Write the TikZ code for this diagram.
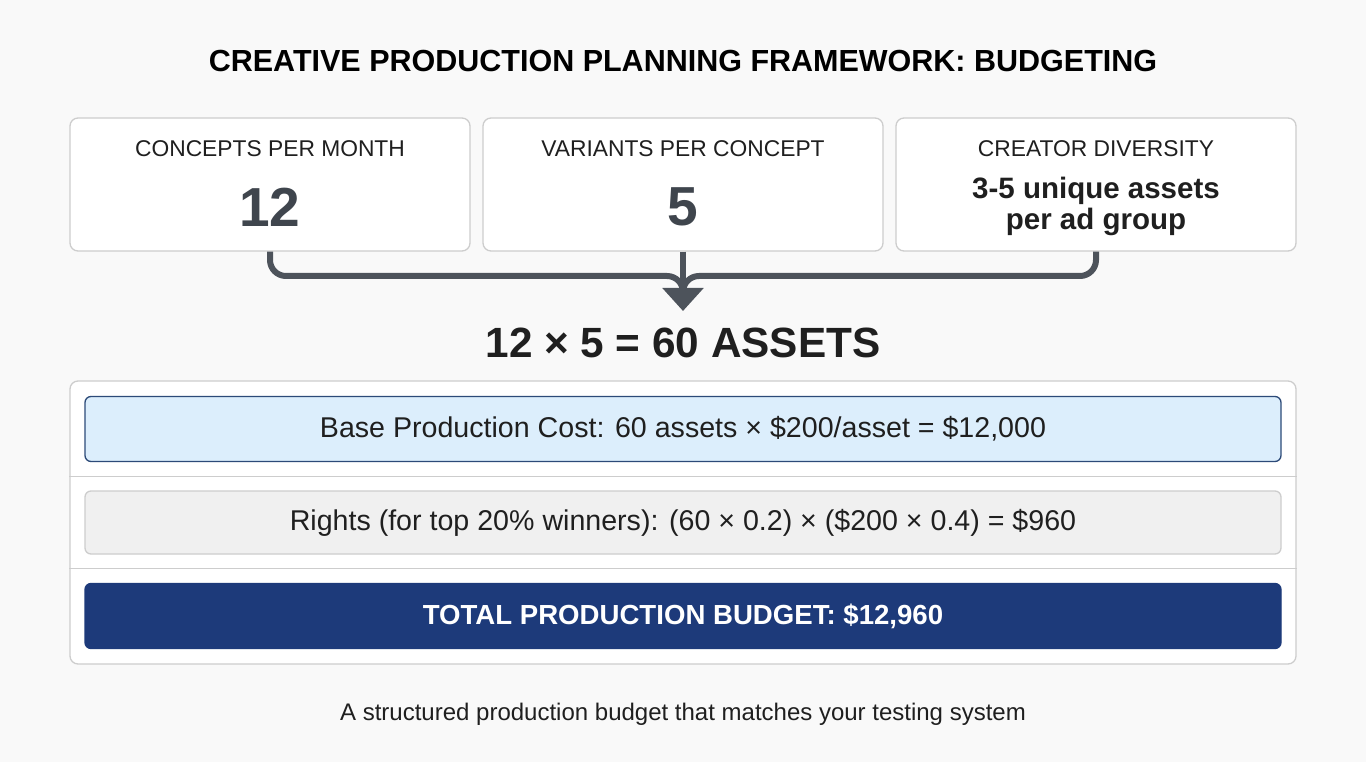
\documentclass[tikz,border=0pt]{standalone}
\usepackage{fontspec}
\setmainfont{Liberation Sans}
\usetikzlibrary{arrows.meta,calc}
\definecolor{bgcol}{HTML}{F9F9F9}
\definecolor{edgegray}{HTML}{CDCDCD}
\definecolor{slate}{HTML}{3F454D}
\definecolor{linkgray}{HTML}{4D535B}
\definecolor{inkdark}{HTML}{1F1F1F}
\definecolor{paleblue}{HTML}{DCEEFC}
\definecolor{navyedge}{HTML}{2C4A78}
\definecolor{palegray}{HTML}{F0F0F0}
\definecolor{navy}{HTML}{1D3A7A}
\newcommand{\fsz}[1]{\fontsize{#1}{#1}\selectfont}
\tikzset{
  card/.style={draw=edgegray, fill=white, rounded corners=8pt, line width=1.3pt,
    minimum width=400pt, minimum height=133pt},
  cardlabel/.style={text=inkdark, font=\fsz{22.8}},
  bignum/.style={text=slate, font=\fsz{55}\bfseries},
  smallnum/.style={text=inkdark, font=\fsz{29.5}\bfseries, align=center},
  link/.style={draw=linkgray, line width=6pt, rounded corners=16pt},
  rowbox/.style={rounded corners=6pt, line width=1.3pt, minimum width=1196pt,
    minimum height=65pt, font=\fsz{28.6}},
  sepline/.style={draw=edgegray, line width=1.3pt}
}
\begin{document}
\begin{tikzpicture}[x=1pt, y=-1pt]
    %%%%% START %%%%%
    \useasboundingbox[fill=bgcol] (0,0) rectangle (1366,762);

    \node[text=black, font=\fsz{30.5}\bfseries] (title) at (683,61)
      {CREATIVE PRODUCTION PLANNING FRAMEWORK: BUDGETING};

    % three input cards
    \node[card] (c1) at (270,184.5) {};
    \node[card] (c2) at (683,184.5) {};
    \node[card] (c3) at (1096,184.5) {};

    \node[cardlabel] (l1) at (270,149) {CONCEPTS PER MONTH};
    \node[cardlabel] (l2) at (683,149) {VARIANTS PER CONCEPT};
    \node[cardlabel] (l3) at (1096,149) {CREATOR DIVERSITY};

    \node[bignum] (n1) at (270,207) {12};
    \node[bignum] (n2) at (683,207) {5};
    \node[smallnum] (n3) at (1096,206.5) {3-5 unique assets\\[2pt]per ad group};

    % merging connector
    \coordinate (join) at (683,276);
    \coordinate (base) at (683,292);
    \coordinate (tip) at (683,311);
    \draw[link] (c1.south) |- (join) -- (base);
    \draw[link] (c3.south) |- (join) -- (base);
    \draw[link, rounded corners=0pt, -{Triangle[width=40pt 0 0, length=23pt 0 0]}]
      (c2.south) -- (tip);

    \node[text=inkdark, font=\fsz{42.3}\bfseries] (result) at (683,343)
      {12 × 5 = 60 ASSETS};

    % budget panel
    \node[card, minimum width=1226pt, minimum height=283pt] (panel) at (683,522.5) {};
    \draw[sepline] (panel.west |- 0,476.5) -- (panel.east |- 0,476.5);
    \draw[sepline] (panel.west |- 0,568.5) -- (panel.east |- 0,568.5);

    \node[rowbox, draw=navyedge, fill=paleblue, text=inkdark] (base cost) at (683,429)
      {Base Production Cost: 60 assets × \$200/asset = \$12,000};
    \node[rowbox, draw=edgegray, fill=palegray, text=inkdark, minimum height=63pt] (rights) at (683,522.5)
      {Rights (for top 20\% winners): (60 × 0.2) × (\$200 × 0.4) = \$960};
    \node[rowbox, draw=navy, fill=navy, text=white, font=\fsz{27.6}\bfseries] (total) at (683,616)
      {TOTAL PRODUCTION BUDGET: \$12,960};

    \node[text=inkdark, font=\fsz{24}] (caption) at (683,714)
      {A structured production budget that matches your testing system};
    %%%%% END %%%%%
\end{tikzpicture}
\end{document}
